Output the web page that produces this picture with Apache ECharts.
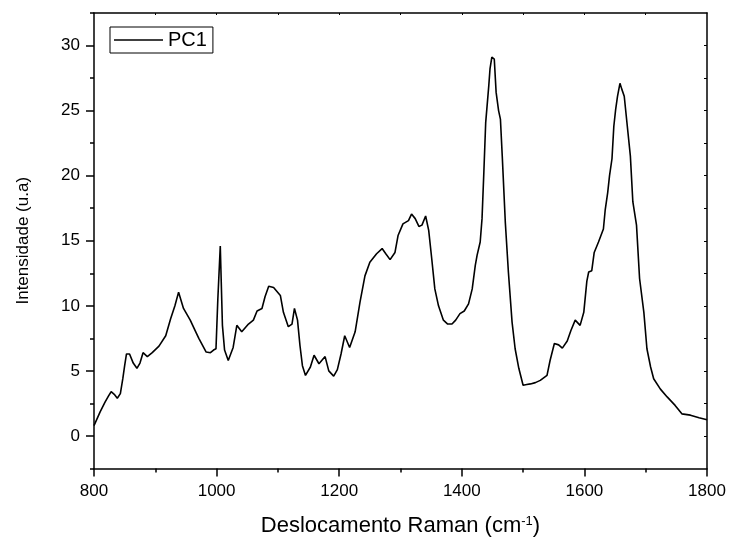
<!DOCTYPE html>
<html>
<head>
<meta charset="utf-8">
<script src="https://cdn.jsdelivr.net/npm/echarts@6/dist/echarts.min.js"></script>
<style>
  html, body { margin: 0; padding: 0; background: #fff; }
  #chart { width: 729px; height: 542px; }
</style>
</head>
<body>
<div id="chart"></div>
<script>
// Raman shift (cm-1) and PC1 loading
const ramanShift = [
  800, 803, 810, 818, 824, 828, 833, 838, 843, 847, 850, 853, 858, 864, 870, 875, 880, 887,
  895, 906, 917, 925, 932, 938, 946, 957, 965, 971, 983, 990, 995, 999, 1002, 1006, 1009.5,
  1013, 1019, 1027, 1033, 1041, 1052, 1060, 1066, 1074, 1079, 1085, 1093, 1104, 1109, 1117,
  1123, 1127, 1132, 1136, 1140, 1145, 1153, 1159, 1167, 1177, 1183, 1191, 1197, 1203, 1209,
  1217, 1226, 1234, 1242, 1250, 1261, 1270, 1276, 1283, 1291, 1296, 1304, 1313, 1318, 1324,
  1330, 1335, 1341, 1346, 1351, 1356, 1362, 1370, 1377, 1384, 1390, 1397, 1404, 1411, 1417,
  1422, 1425, 1430, 1433, 1436, 1439, 1444, 1446, 1449, 1453, 1456, 1460, 1463, 1466, 1471,
  1476, 1482, 1487, 1493, 1500, 1506, 1512, 1520, 1528, 1539, 1544, 1551, 1558, 1564, 1572,
  1578, 1585, 1593, 1599, 1604, 1607, 1612, 1616, 1623, 1631, 1634, 1638, 1641, 1645, 1648,
  1651, 1654, 1658, 1661, 1665, 1670, 1675, 1679, 1685, 1690, 1697, 1702, 1708, 1713, 1724,
  1735, 1748, 1759, 1773, 1787, 1800
];
const pc1 = [
  0.8, 0.95, 1.85, 2.6, 3.1, 3.4, 3.2, 2.9, 3.25, 4.4, 5.4, 6.3, 6.3, 5.6, 5.2, 5.6, 6.4, 6.1,
  6.4, 6.9, 7.7, 9.0, 10.0, 11.05, 9.8, 8.9, 8.1, 7.5, 6.45, 6.4, 6.6, 6.7, 10.5, 14.6, 8.5,
  6.6, 5.8, 6.8, 8.5, 8.0, 8.6, 8.9, 9.6, 9.8, 10.7, 11.5, 11.4, 10.8, 9.5, 8.4,
  8.6, 9.8, 8.9, 6.95, 5.4, 4.65, 5.3, 6.2, 5.55, 6.1, 5.0, 4.6, 5.1, 6.3, 7.7,
  6.8, 8.0, 10.3, 12.3, 13.35, 14.0, 14.4, 14.0, 13.55, 14.1, 15.4, 16.3, 16.55, 17.05, 16.7,
  16.1, 16.2, 16.9, 15.8, 13.6, 11.3, 10.0, 8.9, 8.6, 8.6, 8.9, 9.4, 9.6, 10.15, 11.3,
  13.1, 13.9, 14.9, 16.7, 20.3, 24.1, 26.9, 28.2, 29.1, 28.95, 26.4, 25.0, 24.35, 21.5, 16.4,
  12.6, 8.75, 6.7, 5.2, 3.9, 3.95, 4.0, 4.1, 4.27, 4.65, 5.8, 7.1, 7.0, 6.75, 7.3,
  8.1, 8.9, 8.5, 9.5, 11.9, 12.6, 12.7, 14.1, 14.9, 15.9, 17.4, 18.7, 20.0, 21.3, 23.8,
  25.1, 26.1, 27.1, 26.65, 26.1, 23.8, 21.5, 18.0, 16.2, 12.1, 9.5, 6.7, 5.3, 4.4, 3.6,
  3.0, 2.35, 1.7, 1.6, 1.4, 1.25
];
const xMajorTicks = [800, 1000, 1200, 1400, 1600, 1800];
const xFrameTicks = [900, 1000, 1100, 1200, 1300, 1400, 1500, 1600, 1700];
const yMajorTicks = [0, 5, 10, 15, 20, 25, 30];
const yMinorTicks = [-2.5, 2.5, 7.5, 12.5, 17.5, 22.5, 27.5, 32.5];
const yFrameTicks = [0, 2.5, 5, 7.5, 10, 12.5, 15, 17.5, 20, 22.5, 25, 27.5, 30];

const chart = echarts.init(document.getElementById('chart'), null, { renderer: 'canvas' });
const font = 'Liberation Sans, Arial, sans-serif';
const axisLine = { show: true, onZero: false, lineStyle: { color: '#000', width: 1.5 } };
const noLine = { show: false, onZero: false };

chart.setOption({
  animation: false,
  backgroundColor: '#fff',
  textStyle: { fontFamily: font, color: '#000' },
  grid: { left: 94, right: 22, top: 13, bottom: 73, containLabel: false },
  legend: {
    left: 110, top: 27,
    padding: [3, 6, 3, 4],
    borderColor: '#000', borderWidth: 1, borderRadius: 0,
    icon: 'rect', itemWidth: 49, itemHeight: 1.5,
    itemGap: 0,
    textStyle: { fontSize: 20, fontFamily: font, color: '#000' },
    data: ['PC1']
  },
  xAxis: [
    { // bottom: minor ticks + labels
      type: 'value', position: 'bottom', min: 800, max: 1800, interval: 100,
      axisLine,
      axisTick: { show: true, length: 4, lineStyle: { color: '#000', width: 1.5 } },
      axisLabel: {
        fontSize: 17, color: '#000', margin: 14, fontFamily: font,
        formatter: v => (v % 200 === 0 ? String(v) : '')
      },
      splitLine: { show: false },
      name: 'Deslocamento Raman (cm{sup|-1})',
      nameLocation: 'middle', nameGap: 46,
      nameTextStyle: {
        fontSize: 22, color: '#000', fontFamily: font,
        rich: { sup: { fontSize: 13, verticalAlign: 'top', padding: [0, 0, 10, 0], fontFamily: font } }
      }
    },
    { // bottom: major ticks
      type: 'value', position: 'bottom', min: 800, max: 1800,
      axisLine: noLine,
      axisTick: { show: true, length: 8, customValues: xMajorTicks, lineStyle: { color: '#000', width: 1.5 } },
      axisLabel: { show: false },
      splitLine: { show: false }
    },
    { // top frame
      type: 'value', position: 'top', min: 800, max: 1800,
      axisLine,
      axisTick: { show: true, inside: true, length: 2, customValues: xFrameTicks, lineStyle: { color: '#000', width: 1 } },
      axisLabel: { show: false },
      splitLine: { show: false }
    }
  ],
  yAxis: [
    { // left: labels + major ticks
      type: 'value', position: 'left', min: -2.5, max: 32.5,
      axisLine,
      axisTick: { show: true, length: 8, customValues: yMajorTicks, lineStyle: { color: '#000', width: 1.5 } },
      axisLabel: { fontSize: 17, color: '#000', margin: 14, fontFamily: font, customValues: yMajorTicks },
      splitLine: { show: false },
      name: 'Intensidade (u.a)',
      nameLocation: 'middle', nameGap: 62,
      nameTextStyle: { fontSize: 17, color: '#000', fontFamily: font }
    },
    { // left: minor ticks
      type: 'value', position: 'left', min: -2.5, max: 32.5,
      axisLine: noLine,
      axisTick: { show: true, length: 4, customValues: yMinorTicks, lineStyle: { color: '#000', width: 1.5 } },
      axisLabel: { show: false },
      splitLine: { show: false }
    },
    { // right frame
      type: 'value', position: 'right', min: -2.5, max: 32.5,
      axisLine,
      axisTick: { show: true, inside: true, length: 3, customValues: yFrameTicks, lineStyle: { color: '#000', width: 1 } },
      axisLabel: { show: false },
      splitLine: { show: false }
    }
  ],
  series: [
    {
      name: 'PC1',
      type: 'line',
      data: ramanShift.map((x, i) => [x, pc1[i]]),
      symbol: 'none',
      lineStyle: { color: '#000', width: 1.6 },
      itemStyle: { color: '#000' }
    }
  ]
});
</script>
</body>
</html>
